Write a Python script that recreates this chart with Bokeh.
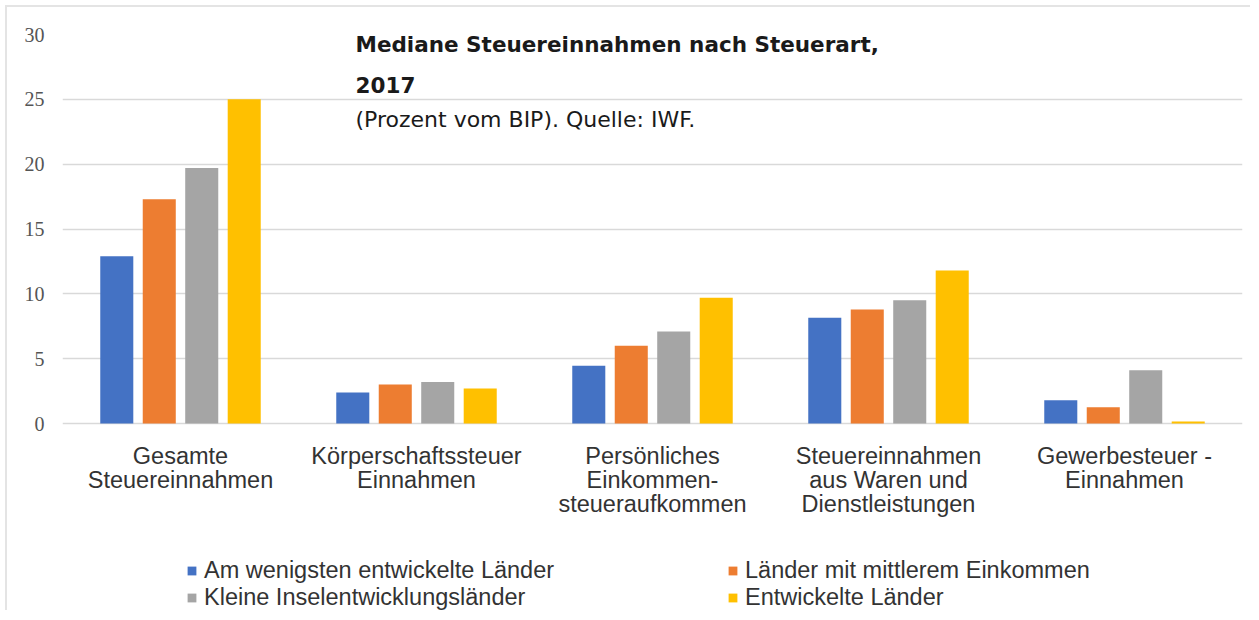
from bokeh.plotting import figure
from bokeh.models import Range1d, FixedTicker, Legend, LegendItem, Label, ColumnDataSource
from bokeh.core.properties import value
from bokeh.embed import file_html
from bokeh.resources import INLINE

categories = [
    "Gesamte\nSteuereinnahmen",
    "Körperschaftssteuer\nEinnahmen",
    "Persönliches\nEinkommen-\nsteueraufkommen",
    "Steuereinnahmen\naus Waren und\nDienstleistungen",
    "Gewerbesteuer -\nEinnahmen",
]
series_names = [
    "Am wenigsten entwickelte Länder",
    "Länder mit mittlerem Einkommen",
    "Kleine Inselentwicklungsländer",
    "Entwickelte Länder",
]
least_developed = [12.9, 2.4, 4.45, 8.15, 1.8]
middle_income = [17.3, 3.0, 6.0, 8.8, 1.25]
small_islands = [19.7, 3.2, 7.1, 9.5, 4.1]
developed = [25.0, 2.7, 9.7, 11.8, 0.15]
series_values = [least_developed, middle_income, small_islands, developed]
colors = ["#4472C4", "#ED7D31", "#A5A5A5", "#FFC000"]
y_ticks = [0, 5, 10, 15, 20, 25, 30]

title_line1 = "Mediane Steuereinnahmen nach Steuerart,"
title_line2 = "2017"
subtitle = "(Prozent vom BIP). Quelle: IWF."

n = len(categories)
idx = list(range(n))

# frame is extended below zero so the category labels and legend live inside it
p = figure(
    width=1245, height=605,
    x_range=Range1d(-0.5, n - 0.5), y_range=Range1d(-14.575, 30),
    output_backend="svg", toolbar_location=None,
    min_border_left=55, min_border_right=10, min_border_top=27, min_border_bottom=0,
)
p.styles = {"border-top": "2px solid #e4e4e4", "border-left": "2px solid #e4e4e4",
            "margin-top": "5px", "margin-left": "5px"}
p.outline_line_color = None
p.background_fill_color = "white"
p.border_fill_color = "white"

offsets = [-0.27, -0.09, 0.09, 0.27]
renderers = []
for vals, col, off in zip(series_values, colors, offsets):
    src = ColumnDataSource(dict(x=[i + off for i in idx], top=vals))
    r = p.vbar(x="x", top="top", width=0.14, bottom=0, source=src,
               fill_color=col, line_color=None)
    renderers.append(r)

# category labels under the zero line
cat_src = ColumnDataSource(dict(x=idx, y=[0] * n, text=categories))
p.text(x="x", y="y", text="text", source=cat_src, y_offset=19,
       text_font=value("Liberation Sans"), text_font_size="23.5px",
       text_color="#333333", text_align="center", text_baseline="top",
       text_line_height=0.93)

p.xaxis.visible = False

p.yaxis.ticker = FixedTicker(ticks=y_ticks)
p.yaxis.major_label_text_font = "Liberation Serif"
p.yaxis.major_label_text_font_size = "20px"
p.yaxis.major_label_text_color = "#555555"
p.yaxis.major_label_standoff = 12
p.yaxis.axis_line_color = None
p.yaxis.major_tick_line_color = None
p.yaxis.minor_tick_line_color = None

p.xgrid.grid_line_color = None
p.ygrid.grid_line_color = "#d9d9d9"
p.ygrid.grid_line_width = 1.5

# title texts (screen units, measured from the frame's bottom-left)
for txt, yy, bold, size in [(title_line1, 568, True, "21.5px"),
                            (title_line2, 528, True, "21.5px"),
                            (subtitle, 493, False, "22px")]:
    p.add_layout(Label(x=293, y=yy, x_units="screen", y_units="screen", text=txt,
                       text_font="DejaVu Sans", text_font_size=size,
                       text_font_style="bold" if bold else "normal",
                       text_color="#1a1a1a", text_baseline="middle", text_align="left"))

# legend: two columns of two rows each
items = [LegendItem(label=nm, renderers=[r]) for nm, r in zip(series_names, renderers)]

def make_legend(its, xloc):
    return Legend(items=its, location=(xloc, 1), orientation="vertical",
                  label_text_font="Liberation Sans", label_text_font_size="23.5px",
                  label_text_color="#333333", glyph_width=11, glyph_height=11,
                  label_standoff=7, spacing=-2, padding=0, margin=0,
                  border_line_color=None, background_fill_alpha=0,
                  label_height=24)

p.add_layout(make_legend([items[0], items[2]], 124))
p.add_layout(make_legend([items[1], items[3]], 665))

open("out.html", "w").write(file_html(p, INLINE))
